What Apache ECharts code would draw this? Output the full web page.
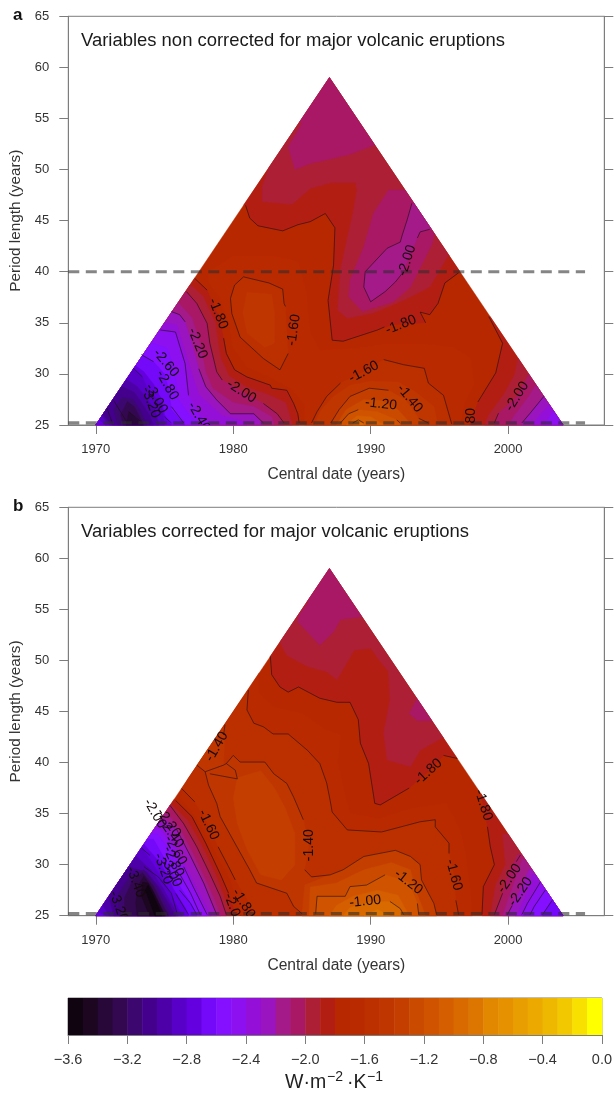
<!DOCTYPE html>
<html><head><meta charset="utf-8">
<style>html,body{margin:0;padding:0;background:#fff}#c{width:615px;height:1094px}</style>
<script src="https://cdn.jsdelivr.net/npm/echarts@6/dist/echarts.min.js"></script>
</head><body><div id="c"></div>
<script>
// ---------- data ----------
const yTicks=[25,30,35,40,45,50,55,60,65];
const xTicks=[1970,1980,1990,2000];
const triangle=[[1970,25],[2004,25],[1987,59]];
const dashA=[[[1968,40],[2005.6,40]],[[1968,25.2],[2005.6,25.2]]];
const dashB=[[[1968,25.2],[2005.6,25.2]]];
const barLevels=[-3.6,-3.5,-3.4,-3.3,-3.2,-3.1,-3.0,-2.9,-2.8,-2.7,-2.6,-2.5,-2.4,-2.3,-2.2,-2.1,-2.0,-1.9,-1.8,-1.7,-1.6,-1.5,-1.4,-1.3,-1.2,-1.1,-1.0,-0.9,-0.8,-0.7,-0.6,-0.5,-0.4,-0.3,-0.2,-0.1];
const barColors=['#100410','#1c0620','#280838','#340850','#3c0870','#44008c','#4e00a8','#5800c8','#6400e0','#7408f8','#8410ff','#8c10f0','#9410d8','#9a14c0','#a31a88','#a91864','#ad1f35','#b31e13','#b82800','#ba2a00','#bc3000','#c03600','#c43e00','#ca4a00','#d05400','#d45e00','#d86a00','#dc7600','#e28800','#e69200','#e89e00','#ecaa00','#eeb800','#f2c800','#f8e000','#ffff00'];

// filled bands [colour level, polygon of [central date, period length]], in painting order
const bandsA=[
[-1.8,[[1970,25],[2004,25],[1987,59]]],
[-1.7,[[1978.2,40],[1980,41.5],[1983,41.5],[1984.7,41],[1985.3,38],[1985.6,34],[1986.3,32.3],[1989,32.5],[1991,32.9],[1994,32.9],[1996,32.6],[1997.3,31.5],[1997.5,29],[1996.8,27],[1996.5,25],[1985.2,25],[1985.2,27],[1984.2,28.6],[1982.5,29.8],[1981,30.7],[1980,32.5],[1979.7,35],[1979,37.5],[1978.2,39]]],
[-1.6,[[1980.75,39.5],[1982.6,38.9],[1983.6,38.3],[1983.7,36.9],[1983.8,36.6],[1984,32],[1983.4,30.4],[1982.2,31.5],[1980.5,33.6],[1979.9,35.9],[1979.8,37.4],[1980.1,38.7]]],
[-1.6,[[1985.7,25],[1986.1,26.3],[1986.8,27.8],[1987.8,29.1],[1989.5,30.2],[1990.95,31.4],[1992.4,30.9],[1993.9,30.55],[1994.2,29.1],[1995.3,27.9],[1995.9,25]]],
[-1.5,[[1981,38],[1982.8,37.8],[1983,36],[1983,33],[1982.3,32.6],[1981,34],[1980.7,36]]],
[-1.5,[[1985.9,25],[1986.4,26.5],[1987.3,27.8],[1988.5,28.9],[1990,29.3],[1992,29.2],[1993.2,28.3],[1994.6,26.8],[1994.9,25]]],
[-1.4,[[1987.1,25],[1987.7,26.5],[1988.5,27.8],[1989.9,28.6],[1991.3,28.4],[1992.5,27.5],[1993.5,25.65],[1994.2,25]]],
[-1.3,[[1987.5,25],[1988.2,26.5],[1989.5,27.5],[1990.8,27.4],[1992,26.5],[1993,25]]],
[-1.2,[[1987.8,25],[1988.4,26.1],[1989.1,26.5],[1990.5,26.3],[1991.9,25.5],[1992.15,25]]],
[-1.1,[[1988.2,25],[1989,25.9],[1990,25.8],[1991,25]]],
[-1.0,[[1988.7,25],[1989.1,25.5],[1989.5,25]]],
[-1.9,[[1980.9,46.5],[1981.2,45.25],[1981.8,44.5],[1983.6,44],[1984.7,44.6],[1985.6,44.9],[1986.7,45.7],[1987.4,44.3],[1987.3,40.65],[1986.9,37.2],[1987.2,33.3],[1988,33.2],[1990.5,34.3],[1991.6,34.8],[1994,35],[1993.6,36.05],[1994.3,35.8],[1994.9,36.9],[1995.4,38.9],[1996.4,39.9],[2000,45],[1987,62],[1975,47]]],
[-1.9,[[1977.2,39.35],[1978.1,38.2],[1979,35.5],[1979.3,33.5],[1979.5,32],[1980.1,30.4],[1981,29.7],[1982.7,28.9],[1982.8,28.6],[1983.9,28.4],[1984.4,27.1],[1984.7,26.1],[1984.8,25],[1960,25],[1960,39.35]]],
[-1.9,[[1998.6,35.6],[1999.6,33],[1999.1,30.1],[1997.8,27.25],[1997.2,25],[2012,25],[2012,35.6]]],
[-2.0,[[1982.6,50.2],[1982.1,48.3],[1982.1,46.85],[1984.3,46.6],[1985.6,48.15],[1987.1,48.7],[1988.9,48.7],[1989,48],[1988.7,45.7],[1987.8,40.2],[1987.6,36.25],[1988.3,35.45],[1990.2,35.95],[1992.4,37.2],[1994.3,38.5],[1995.6,41.5],[1997,42],[1997,50],[1987,62],[1978,55]]],
[-2.0,[[1976.9,38.7],[1977.8,37.6],[1978.7,35],[1978.9,33],[1979.1,31.5],[1979.7,29.8],[1981,28.7],[1982.5,28],[1983.8,27.2],[1984.1,26],[1984.3,25],[1960,25],[1960,38.7]]],
[-2.0,[[2000.8,32],[2000.5,30],[1999.7,28],[1998.6,26],[1998.3,25],[2012,25],[2012,32]]],
[-2.1,[[1985,54.5],[1984,52.2],[1984.5,50],[1985.6,50.6],[1987,51],[1988.5,51.5],[1990.5,52.5],[1991,54],[1992,58],[1987,62],[1982,58]]],
[-2.1,[[1991.3,48],[1990.2,45.7],[1989.5,42.45],[1988.5,39.2],[1988.4,37.55],[1989.4,36.1],[1991.65,37.05],[1992.9,38.5],[1994.5,42.8],[1994.6,43.6],[1997,44],[1997,48]]],
[-2.1,[[1976.6,38.05],[1977.35,36.9],[1978.1,34.95],[1978.3,33],[1978.8,30.2],[1979.2,29.4],[1980.5,28.4],[1982.2,27.1],[1983.2,26.1],[1983.7,25],[1960,25],[1960,38.05]]],
[-2.1,[[2001.5,30],[2000.65,27.8],[1999.3,26.15],[1999,25],[2012,25],[2012,30]]],
[-2.2,[[1993,46.7],[1992.65,45.06],[1992.3,43.6],[1992.15,42.9],[1991.2,42.3],[1989.6,40],[1989.5,38.5],[1990,37.06],[1991.05,38.05],[1991.8,39],[1992.3,39.85],[1993.4,43.3],[1993.6,43.9],[1994.3,44.15],[1997,44.15],[1997,46.7]]],
[-2.2,[[1976,37],[1977,35.5],[1977.6,33],[1978,30.2],[1978.5,28.6],[1980,27.2],[1981.5,26.8],[1982.8,25.8],[1983,25],[1960,25],[1960,37]]],
[-2.2,[[2002,28.9],[2001.5,27.8],[2000.5,26],[2000,25],[2012,25],[2012,28.9]]],
[-2.3,[[1975.5,36.1],[1976.1,35.8],[1976.5,35.1],[1977,33],[1977.5,30.5],[1978,28.75],[1978.8,27.45],[1979.8,26.1],[1981.5,26.1],[1982.2,25],[1960,25],[1960,36.1]]],
[-2.3,[[2002.6,27.8],[2001.6,26.15],[2001,25],[2012,25],[2012,27.8]]],
[-2.4,[[1975,35],[1975.9,34.8],[1976.3,33],[1977,30],[1977.5,28],[1978.3,27],[1979.2,25.9],[1980.5,25.5],[1981,25],[1960,25],[1960,35]]],
[-2.4,[[2003,27],[2002.2,25.8],[2001.8,25],[2012,25],[2012,27]]],
[-2.5,[[1974.7,34.3],[1975.8,34.1],[1976.5,31],[1976.75,27.9],[1977.5,26],[1978.5,25],[1960,25],[1960,34.3]]],
[-2.5,[[2003.3,26.4],[2002.6,25],[2012,25],[2012,26.4]]],
[-2.6,[[1974.2,33],[1975.2,32.5],[1975.7,30.5],[1976,27.5],[1976.8,26],[1977.5,25],[1960,25],[1960,33]]],
[-2.7,[[1973.3,31.9],[1974.2,31.2],[1975,30],[1975.3,28.5],[1975.5,26.5],[1976.5,25],[1960,25],[1960,31.9]]],
[-2.8,[[1972.8,30.9],[1973.5,30.2],[1974.2,29],[1974.8,27.5],[1975,26],[1975.5,25],[1960,25],[1960,30.9]]],
[-2.9,[[1972.7,30.6],[1973.4,29.7],[1973.8,28.5],[1974.8,27],[1975,25],[1970.7,25],[1969,27]]],
[-3.0,[[1971,25],[1970,26.5],[1972.2,29.5],[1973,28.8],[1973.6,27.8],[1974.3,26.5],[1974.6,25]]],
[-3.1,[[1971.2,25],[1970,26.7],[1971.9,28.8],[1972.8,28.2],[1973.3,27.3],[1973.9,26],[1974.2,25]]],
[-3.2,[[1971.6,25],[1971.3,26.5],[1971.9,27.7],[1972.7,27.5],[1973.2,26.5],[1973.7,25]]],
[-3.3,[[1972,25],[1971.8,26],[1972.3,27.3],[1972.8,26.8],[1973.5,25]]],
[-3.4,[[1972.4,26.3],[1973.4,25],[1972.2,25]]]
];
const bandsB=[
[-1.8,[[1970,25],[2004,25],[1987,59]]],
[-1.7,[[1976.7,38.4],[1981.9,48.8],[1981.9,46.8],[1983,45.4],[1985,44.8],[1986.7,43.2],[1987.8,42.7],[1987.6,40],[1988.1,37],[1988.5,35],[1990.6,34.5],[1993,35.5],[1995.5,36],[1996.5,33.5],[1996.9,31],[1997.2,28],[1997.4,25],[1980.6,25],[1980.3,26.5],[1979.8,28.5],[1979,30.5],[1978,33.1],[1977,35.2],[1976.1,36.6]]],
[-1.6,[[1981.1,47.1],[1981,45.15],[1981.5,43.85],[1982.2,43.5],[1982.9,42.8],[1984,42.8],[1985.4,41.2],[1986.3,39.9],[1986.8,38],[1987.05,36.3],[1987.2,35.15],[1988.3,33.4],[1990.8,33.2],[1993.6,34.2],[1994.7,34.4],[1994.7,33.7],[1995.7,32.1],[1995.7,31.1],[1996.05,29],[1996.2,26.5],[1996.4,25],[1981.5,25],[1981,26.7],[1980.15,28.5],[1979.66,29.8],[1978.9,31.75],[1978.2,33.9],[1977.2,36.15],[1976.25,37.45]]],
[-1.5,[[1977.35,39.75],[1977.96,39.1],[1978.2,37.8],[1978.8,36],[1979.05,34.7],[1980,32.4],[1981.2,29.5],[1981.7,28.2],[1983.9,27.2],[1984.4,25.9],[1985,25],[1994.8,25],[1994.6,26.2],[1993.7,28.5],[1993.6,30],[1992.9,30.8],[1991.8,31.4],[1989.5,30.8],[1988,29.5],[1987.05,29],[1985.7,28.8],[1985.2,29.5],[1985.5,31.9],[1985.1,34.4],[1984.4,36.6],[1983.9,37.95],[1982.95,38.9],[1982.3,40.05],[1980.5,40.05],[1980,40.7],[1979.5,39.9],[1979.3,39.75],[1979.4,43.7]]],
[-1.4,[[1980.3,38.5],[1982,39.2],[1983,37.5],[1983.8,35.5],[1984.5,33],[1984.5,30],[1983.5,28.5],[1982,29],[1981,31.5],[1980.3,34],[1980,36.5]]],
[-1.4,[[1985,25],[1985.2,28],[1987.05,29],[1988,29.5],[1989.5,30.8],[1991.8,31.4],[1992.9,30.8],[1993.6,30],[1993.7,28.5],[1994.6,26.2],[1994.8,25]]],
[-1.3,[[1985.5,25],[1985.6,27.8],[1987.5,28.2],[1989.5,29.5],[1991.5,30.2],[1992.9,29.5],[1993.2,27.8],[1994,25]]],
[-1.2,[[1986,25],[1986.1,26.9],[1988.15,26.9],[1988.5,27.85],[1989.7,28],[1991.05,29],[1992.75,28.3],[1993.4,26.2],[1993.5,25]]],
[-1.1,[[1987,25],[1987.5,26],[1988.7,26.9],[1990.5,27.5],[1992,27],[1992.8,25]]],
[-1.0,[[1988,25],[1988.5,25.8],[1990,26.4],[1991.4,26.4],[1992.15,25.7],[1992.4,25]]],
[-0.9,[[1989.5,25],[1990.5,25.6],[1991.4,25]]],
[-1.9,[[1982.7,50.4],[1982.8,48.6],[1983.4,47.4],[1984,46.9],[1984.75,47.4],[1986.3,46.3],[1987.55,45.9],[1988.5,45.9],[1989.1,44.2],[1989.25,41.9],[1989.85,39.9],[1990,38.6],[1990.3,36],[1990.7,35.85],[1992.8,37.5],[1994.2,39.1],[1995.3,40.7],[1996.3,40.4],[1999,40.4],[1999,50],[1987,62],[1975,50.4]]],
[-1.9,[[1998,37],[1998.5,33.7],[1998.7,31.8],[1999,30],[1998.2,27.85],[1998.1,25],[2012,25],[2012,37]]],
[-1.9,[[1975.7,36.4],[1977,34.7],[1978,32.1],[1979.05,29.1],[1979.66,27.2],[1980.2,25],[1960,25],[1960,36.4]]],
[-2.0,[[1983.4,51.85],[1983.7,51],[1983.9,50.5],[1985.4,49.4],[1986.8,48.9],[1987.55,48.1],[1988.8,51],[1990,51.2],[1990.7,49.9],[1991.3,48.9],[1991.4,46.1],[1990.95,42.9],[1991.2,40.25],[1992.9,39.6],[1993.6,41.2],[1995.2,42.4],[1999,42.4],[1999,50],[1987,62],[1977,51.85]]],
[-2.0,[[1999.6,33],[1999.8,30],[1999.1,28],[1998.7,25],[2012,25],[2012,33]]],
[-2.0,[[1975.5,35.9],[1976.7,34.3],[1977.7,31.9],[1978.7,29.1],[1979.3,27],[1979.8,25],[1960,25],[1960,35.9]]],
[-2.1,[[1985.5,55.75],[1984.8,54.45],[1984.7,53.8],[1986.3,51.5],[1987.3,52.8],[1987.8,54],[1989.4,54.3],[1993,54.3],[1987,62],[1982,55.75]]],
[-2.1,[[1993.4,46.3],[1992.8,44.8],[1993.4,44.1],[1994.2,44.1],[1997,44.1],[1997,46.3]]],
[-2.1,[[2000.7,31],[2000,29],[1999.6,27.2],[1999,25],[2012,25],[2012,31]]],
[-2.1,[[1975.4,35.8],[1976.4,34],[1977.35,31.75],[1978.3,29.1],[1979.05,26.9],[1979.5,25],[1960,25],[1960,35.8]]],
[-2.2,[[2001,30.5],[2000.5,28.5],[2000.1,27],[1999.6,25],[2012,25],[2012,30.5]]],
[-2.2,[[1975.2,35],[1976.1,33.6],[1977,31.3],[1977.9,28.8],[1978.6,26.7],[1979.1,25],[1960,25],[1960,35]]],
[-2.3,[[2001.5,29.5],[2000.9,27.5],[2000.3,26],[1999.95,25],[2012,25],[2012,29.5]]],
[-2.3,[[1975,34.5],[1975.9,33.4],[1976.9,30.8],[1977.85,28.2],[1978.8,25],[1960,25],[1960,34.5]]],
[-2.4,[[2001.8,29],[2001.3,27],[2000.8,25.5],[2000.5,25],[2012,25],[2012,29]]],
[-2.4,[[1974.9,34],[1975.7,32.4],[1976.5,30],[1977.3,27.8],[1978.4,25],[1960,25],[1960,34]]],
[-2.5,[[2002.35,28.3],[2001.4,26.2],[2001,25],[2012,25],[2012,28.3]]],
[-2.5,[[1974.7,33.5],[1975.5,32],[1976.4,29.8],[1977.1,27.8],[1978.1,25],[1960,25],[1960,33.5]]],
[-2.6,[[2002.7,27.5],[2001.9,25.9],[2001.6,25],[2012,25],[2012,27.5]]],
[-2.6,[[1974.5,33],[1975.3,31.5],[1976.1,29.1],[1976.9,27.2],[1977.6,25],[1960,25],[1960,33]]],
[-2.7,[[2003.2,26.5],[2002.5,25],[2012,25],[2012,26.5]]],
[-2.7,[[1974.2,32.5],[1975,30.6],[1975.9,28.3],[1976.7,26.7],[1977.35,25],[1960,25],[1960,32.5]]],
[-2.8,[[1973.5,32],[1974.8,30],[1975.7,27.5],[1976.5,25.8],[1976.75,25],[1960,25],[1960,32]]],
[-2.9,[[1970.8,25],[1969,26],[1973.2,32],[1974.3,29.8],[1975.2,27.8],[1975.9,26],[1976.3,25]]],
[-3.0,[[1971,25],[1970,27],[1972.8,31],[1974,29.5],[1974.9,27.7],[1975.6,26],[1976,25]]],
[-3.1,[[1971.3,25],[1970.8,27.5],[1972.4,29.8],[1973.7,29.3],[1974.6,27.8],[1975.4,26],[1975.8,25]]],
[-3.2,[[1971.7,25],[1971.6,27],[1972.5,28.9],[1973.5,29.5],[1974.4,27.8],[1975.1,26],[1975.5,25]]],
[-3.3,[[1972.1,25],[1972.1,26.8],[1972.7,28.5],[1973.4,29.2],[1974.2,27.9],[1974.9,26],[1975.3,25]]],
[-3.4,[[1973,25],[1972.9,26.3],[1973.1,28],[1973.5,28.9],[1974,27.9],[1974.7,26],[1975.1,25]]],
[-3.5,[[1973.9,25],[1973.3,27],[1973.4,28.3],[1973.8,28.2],[1974.2,27.3],[1974.7,25.9],[1975,25]]],
[-3.6,[[1974.3,25],[1973.6,27.5],[1973.8,28],[1974.1,27.2],[1974.6,25.8],[1974.8,25]]]
];

// contour lines, broken where a label sits
const contoursA=[
[[1980.75,39.5],[1980.1,38.7],[1979.8,37.4],[1979.9,35.9],[1980.5,33.6],[1982.2,31.5],[1983.4,30.4],[1984,32]],
[[1983.8,36.6],[1983.7,36.9],[1983.6,38.3],[1982.6,38.9],[1980.75,39.5]],
[[1977.2,39.35],[1978.1,38.2]],
[[1979.3,33.5],[1979.5,32],[1980.1,30.4],[1981,29.7],[1982.7,28.9],[1982.8,28.6],[1983.9,28.4],[1984.4,27.1],[1984.7,26.1],[1984.8,25.2]],
[[1976.6,38.05],[1977.35,36.9],[1978.1,34.95],[1978.3,33],[1978.8,30.2],[1979.2,29.4]],
[[1982.2,27.1],[1983.2,26.1],[1983.7,25.2]],
[[1975.5,36.1],[1976.1,35.8],[1976.5,35.1]],
[[1977.5,30.5],[1978,28.75],[1978.8,27.45],[1979.8,26.1],[1981.5,26.1],[1982.2,25.2]],
[[1974.7,34.3],[1975.8,34.1],[1976.5,31],[1976.75,27.9]],
[[1973.3,31.9],[1974.2,31.2]],
[[1972.7,30.6],[1973.4,29.7]],
[[1971.3,27.4],[1972.3,25.2]],
[[1970.8,26.7],[1971.2,25.2]],
[[1972.4,26.3],[1973.4,25.2]],
[[1975.5,26.8],[1976.4,25.2]],
[[1975,25.8],[1975.5,25.2]],
[[1980.9,46.5],[1981.2,45.25],[1981.8,44.5],[1983.6,44],[1984.7,44.6],[1985.6,44.9],[1986.7,45.7],[1987.4,44.3],[1987.3,40.65],[1986.9,37.2],[1987.2,33.3],[1988,33.2],[1990.5,34.3],[1991,34.6]],
[[1994,35],[1993.6,36.05],[1994.3,35.8],[1994.9,36.9],[1995.4,38.9],[1996.4,39.9]],
[[1998.6,35.6],[1999.6,33],[1999.1,30.1],[1997.8,27.25]],
[[1993,46.7],[1992.65,45.06],[1992.3,43.6],[1992.15,42.9],[1991.2,42.3],[1989.6,40],[1989.5,38.5],[1990,37.06],[1991.05,38.05],[1991.8,39],[1992.3,39.85]],
[[1993.4,43.3],[1993.6,43.9],[1994.3,44.15]],
[[1999.3,26.15],[1999,25.2]],
[[2002.6,27.8],[2001.6,26.15],[2001,25.2]],
[[1990.95,31.4],[1992.4,30.9],[1993.9,30.55],[1994.2,29.1],[1995.3,27.9],[1995.9,25.1]],
[[1987.8,29.1],[1986.8,27.8],[1986.1,26.3],[1985.7,25.2]],
[[1991.3,28.4],[1989.9,28.6],[1988.5,27.8],[1987.7,26.5],[1987.1,25.2]],
[[1993.5,25.65],[1994.2,25.2]],
[[1989.1,26.5],[1988.4,26.1],[1987.8,25.2]],
[[1991.9,25.5],[1992.15,25.2]],
[[1988.7,25.2],[1989.1,25.5],[1989.5,25.2]]
];
const contoursB=[
[[1982.7,50.4],[1982.8,48.6],[1983.4,47.4],[1984,46.9],[1984.75,47.4],[1986.3,46.3],[1987.55,45.9],[1988.5,45.9],[1989.1,44.2],[1989.25,41.9],[1989.85,39.9],[1990,38.6],[1990.3,36],[1990.7,35.85],[1992.8,37.5]],
[[1995.3,40.7],[1996.3,40.4]],
[[1981.1,47.1],[1981,45.15],[1981.5,43.85],[1982.2,43.5],[1982.9,42.8],[1984,42.8],[1985.4,41.2],[1986.3,39.9],[1986.8,38],[1987.05,36.3],[1987.2,35.15],[1988.3,33.4],[1990.8,33.2],[1993.6,34.2],[1994.7,34.4],[1994.7,33.7],[1995.7,32.1],[1995.7,31.1]],
[[1996.2,26.5],[1996.4,25.1]],
[[1977.35,39.75],[1977.96,39.1],[1978.2,37.8],[1978.8,36],[1979.05,34.7],[1980,32.4],[1981.2,29.5],[1981.7,28.2],[1983.9,27.2],[1984.4,25.9],[1985,25.2]],
[[1979.4,43.7],[1979.3,42.7]],
[[1977.96,39.1],[1979.3,39.75],[1979.5,39.9],[1980,40.7],[1980.5,40.05],[1982.3,40.05],[1982.95,38.9],[1983.9,37.95],[1984.4,36.6],[1985.1,34.4]],
[[1985.2,29.5],[1985.7,28.8],[1987.05,29],[1988,29.5],[1989.5,30.8],[1991.8,31.4],[1992.9,30.8],[1993.6,30],[1993.7,28.5],[1994.6,26.2],[1994.8,25.1]],
[[1979.5,39.9],[1980.15,39.25],[1980.3,38.4],[1978.3,38.9]],
[[1976.25,37.45],[1977.2,36.15]],
[[1978.9,31.75],[1979.66,29.8],[1980.15,28.5]],
[[1986,25.2],[1986.1,26.9],[1988.15,26.9],[1988.5,27.85],[1989.7,28],[1991.05,29]],
[[1993.4,26.2],[1993.5,25.1]],
[[1991.4,26.4],[1992.15,25.7],[1992.4,25.1]],
[[1998.5,33.7],[1998.7,31.8],[1999,30],[1998.2,27.85],[1998.1,25.1]],
[[2000.9,30.95],[2000.6,30.3]],
[[1999.6,27.2],[1999,25.1]],
[[2000.3,26],[1999.95,25.1]],
[[2002.35,28.3],[2001.4,26.2],[2001,25.1]],
[[2002.7,27.5],[2001.9,25.9],[2001.6,25.1]],
[[2003.2,26.5],[2002.5,25.1]],
[[1975.8,36.3],[1977,34.7],[1978,32.1],[1979.05,29.1],[1979.66,27.2]],
[[1975.4,35.8],[1976.4,34],[1977.35,31.75],[1978.3,29.1],[1979.05,26.9],[1979.5,25.1]],
[[1975.9,33.4],[1976.9,30.8],[1977.85,28.2],[1978.8,25.1]],
[[1976.4,29.8],[1977.1,27.8],[1978.1,25.1]],
[[1976.1,29.1],[1976.9,27.2],[1977.6,25.1]],
[[1976.1,27.5],[1976.9,26.2],[1977.35,25.1]],
[[1975.8,27.2],[1976.75,25.1]],
[[1973.35,31.6],[1973.95,30.9]],
[[1973.5,29.8],[1974.55,28.8],[1975.5,27.2],[1975.9,25.3]]
];

// contour labels: central date, period length, text, rotation in degrees
const labelsA=[
[1978.9,35.9,'-1.80',-68],[1984.4,34.3,'-1.60',82],[1977.4,33,'-2.20',-68],[1980.6,28.3,'-2.00',-32],
[1975.1,31.07,'-2.60',-50],[1975.2,28.9,'-2.80',-60],[1974.4,27.6,'-3.00',-60],[1974,27.2,'-3.20',-70],
[1977.5,25.8,'-2.40',-60],[1992.65,41.1,'-2.00',72],[1992.2,34.8,'-1.80',22],[1989.5,30.2,'-1.60',28],
[1992.85,27.6,'-1.40',-50],[1990.75,27.05,'-1.20',-6],[1997.3,25.1,'-1.80',90],[2000.65,27.8,'-2.00',58]
];
const labelsB=[
[1978.8,41.55,'-1.40',60],[1978.2,33.9,'-1.60',-65],[1985.5,31.9,'-1.40',90],[1994.2,39.1,'-1.80',42],
[1998.2,35.85,'-1.80',-72],[1996.05,29,'-1.60',-75],[1992.75,28.3,'-1.20',-38],[1989.6,26.4,'-1.00',6],
[1980.75,26.2,'-1.80',-58],[1980,25.7,'-2.00',-70],[2000.1,28.65,'-2.00',55],[2000.9,27.35,'-2.20',55],
[1974.3,35,'-2.00',-60],[1975.3,34.1,'-2.20',-55],[1975.5,33.05,'-2.40',-55],[1975.8,31.4,'-2.60',-60],
[1975.65,30.3,'-2.80',-65],[1975.5,29.3,'-3.00',-65],[1974.9,29.6,'-3.20',-70],[1972.9,28.3,'-3.40',-70],[1971.65,25.9,'-3.20',-70]
];

const titleA='Variables non corrected for major volcanic eruptions';
const titleB='Variables corrected for major volcanic eruptions';
const xName='Central date (years)', yName='Period length (years)';

// ---------- helpers ----------
const colorOf=v=>barColors[barLevels.findIndex(l=>Math.abs(l-v)<1e-6)];
function clipToTriangle(poly){
  let out=poly;
  for(let i=0;i<3;i++){
    const a=triangle[i],b=triangle[(i+1)%3];
    const f=p=>(b[0]-a[0])*(p[1]-a[1])-(b[1]-a[1])*(p[0]-a[0]);
    const res=[];
    for(let j=0;j<out.length;j++){
      const p=out[j],q=out[(j+1)%out.length],fp=f(p),fq=f(q);
      if(fp>=0)res.push(p);
      if((fp>=0)!==(fq>=0)){const t=fp/(fp-fq);res.push([p[0]+t*(q[0]-p[0]),p[1]+t*(q[1]-p[1])]);}
    }
    out=res;
    if(!out.length)break;
  }
  return out;
}
const AX='#7d7d7d', TXT='#333', FONT='"Liberation Sans",Arial,sans-serif';
function bandSeries(bands,idx){
  return {type:'custom',xAxisIndex:idx,yAxisIndex:idx*2,z:1,silent:true,clip:false,animation:false,
    data:bands.map((b,i)=>[b[1][0][0],b[1][0][1],i]),
    renderItem(params,api){
      const b=bands[params.dataIndex];
      const pts=clipToTriangle(b[1]);
      if(pts.length<3)return null;
      const col=colorOf(b[0]);
      return {type:'polygon',shape:{points:pts.map(p=>api.coord(p))},style:{fill:col,stroke:col,lineWidth:0.4}};
    }};
}
function contourSeries(lines,idx){
  return lines.map(l=>({type:'line',xAxisIndex:idx,yAxisIndex:idx*2,z:3,silent:true,animation:false,showSymbol:false,symbol:'none',
    lineStyle:{color:'rgba(25,15,15,0.75)',width:0.8},data:l}));
}
function dashSeries(lines,idx){
  return lines.map(l=>({type:'line',xAxisIndex:idx,yAxisIndex:idx*2,z:4,silent:true,animation:false,showSymbol:false,symbol:'none',clip:false,
    lineStyle:{color:'rgba(45,45,45,0.58)',width:3.2,type:[11,6.5]},data:l}));
}
function labelSeries(labels,idx){
  return {type:'custom',xAxisIndex:idx,yAxisIndex:idx*2,z:5,silent:true,clip:true,animation:false,
    data:labels.map(l=>[l[0],l[1]]),
    renderItem(params,api){
      const l=labels[params.dataIndex],p=api.coord([l[0],l[1]]);
      return {type:'text',x:p[0],y:p[1],rotation:l[3]*Math.PI/180,
        style:{text:l[2],x:0,y:0,align:'center',verticalAlign:'middle',fill:'#150a0a',font:'14px '+FONT}};
    }};
}
function xAxisOf(i){
  return {gridIndex:i,type:'value',min:1968,max:2007,name:xName,nameLocation:'middle',nameGap:42,
    nameTextStyle:{fontFamily:FONT,fontSize:15.6,color:TXT},
    axisLine:{onZero:false,lineStyle:{color:AX}},splitLine:{show:false},
    axisTick:{length:9,lineStyle:{color:AX},customValues:xTicks},
    axisLabel:{fontFamily:FONT,fontSize:13,color:TXT,margin:18,customValues:xTicks,formatter:v=>String(v)}};
}
function yAxesOf(i){
  return [
   {gridIndex:i,type:'value',min:25,max:65,interval:5,position:'left',name:yName,nameLocation:'middle',nameGap:45,
    nameTextStyle:{fontFamily:FONT,fontSize:15.3,color:TXT},
    axisLine:{show:true,onZero:false,lineStyle:{color:AX}},splitLine:{show:false},
    axisTick:{show:true,length:9,lineStyle:{color:AX}},
    axisLabel:{fontFamily:FONT,fontSize:13,color:TXT,margin:19,customValues:yTicks}},
   {gridIndex:i,type:'value',min:25,max:65,interval:5,position:'right',
    axisLine:{show:true,onZero:false,lineStyle:{color:AX}},splitLine:{show:false},
    axisTick:{show:true,length:9,lineStyle:{color:AX}},axisLabel:{show:false}}
  ];
}
const gridBox={show:true,borderColor:AX,borderWidth:1,backgroundColor:'#fff',containLabel:false};
const chart=echarts.init(document.getElementById('c'),null,{renderer:'canvas'});
const titleStyle=(t,x,y)=>({text:t,left:x,top:y,padding:0,textStyle:{fontFamily:FONT,fontSize:18.45,fontWeight:'normal',color:'#1a1a1a'}});
const tagStyle=(t,x,y)=>({text:t,left:x,top:y,padding:0,textStyle:{fontFamily:FONT,fontSize:17,fontWeight:'bold',color:'#111'}});
chart.setOption({
  animation:false,backgroundColor:'#fff',
  title:[titleStyle(titleA,81,32),titleStyle(titleB,81,523),tagStyle('a',13,7),tagStyle('b',13,498)],
  grid:[
    Object.assign({left:68.3,top:16.3,width:536,height:408.7},gridBox),
    Object.assign({left:68.3,top:507.3,width:536,height:408.4},gridBox),
    Object.assign({left:68,top:998,width:536,height:37},gridBox)
  ],
  xAxis:[xAxisOf(0),xAxisOf(1),
    {gridIndex:2,type:'value',min:-3.6,max:0,interval:0.4,
     axisLine:{onZero:false,lineStyle:{color:AX}},splitLine:{show:false},
     axisTick:{length:9,lineStyle:{color:AX}},
     axisLabel:{fontFamily:FONT,fontSize:14.5,color:TXT,margin:17,showMinLabel:true,showMaxLabel:true,
       formatter:v=>(v<0?'\u2212':'')+Math.abs(v).toFixed(1)}}],
  yAxis:[...yAxesOf(0),...yAxesOf(1),{gridIndex:2,type:'value',min:0,max:1,show:false}],
  series:[
    bandSeries(bandsA,0),...contourSeries(contoursA,0),...dashSeries(dashA,0),labelSeries(labelsA,0),
    bandSeries(bandsB,1),...contourSeries(contoursB,1),...dashSeries(dashB,1),labelSeries(labelsB,1),
    {type:'custom',xAxisIndex:2,yAxisIndex:4,z:1,silent:true,animation:false,
     data:barLevels.map((v,i)=>[v,i]),
     renderItem(params,api){
       const v=barLevels[params.dataIndex],p0=api.coord([v,1]),p1=api.coord([v+0.1,0]);
       return {type:'rect',shape:{x:p0[0],y:p0[1],width:p1[0]-p0[0]+0.5,height:p1[1]-p0[1]},style:{fill:barColors[params.dataIndex]}};
     }}
  ],
  graphic:[
    {type:'text',x:285,y:1083,style:{text:'W\u00b7m',font:'19.5px '+FONT,fill:'#222',verticalAlign:'middle'}},
    {type:'text',x:327,y:1077,style:{text:'\u22122',font:'14px '+FONT,fill:'#222',verticalAlign:'middle'}},
    {type:'text',x:347,y:1083,style:{text:'\u00b7K',font:'19.5px '+FONT,fill:'#222',verticalAlign:'middle'}},
    {type:'text',x:367,y:1077,style:{text:'\u22121',font:'14px '+FONT,fill:'#222',verticalAlign:'middle'}}
  ]
});
</script></body></html>
